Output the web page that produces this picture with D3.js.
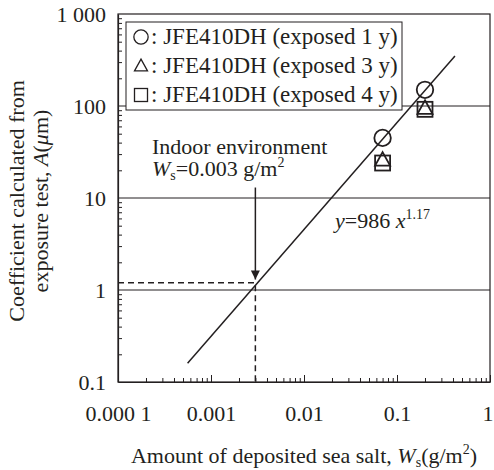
<!DOCTYPE html>
<html>
<head>
<meta charset="utf-8">
<script src="https://cdn.jsdelivr.net/npm/d3@7"></script>
<style>
  body { margin: 0; background: #fff; }
</style>
</head>
<body>
<svg id="chart"></svg>
<script>
// data
const saltX = [0.07, 0.2];
const coefExposed1 = [45, 150];
const coefExposed3 = [26, 95];
const coefExposed4 = [24, 92];
const seriesNames = ["JFE410DH (exposed 1 y)", "JFE410DH (exposed 3 y)", "JFE410DH (exposed 4 y)"];
const seriesShapes = ["circle", "triangle", "square"];

// fit line y = 986 x^1.17, endpoints
const fitX = [0.00056, 0.42];
const fitY = [0.16, 350];

// indoor environment marker
const indoorX = 0.003;
const indoorY = 1.2;
const arrowFromY = 13;
const arrowToY = 1.3;

const xTicks = [0.0001, 0.001, 0.01, 0.1, 1];
const xTickLabels = ["0.000 1", "0.001", "0.01", "0.1", "1"];
const yTicks = [0.1, 1, 10, 100, 1000];
const yTickLabels = ["0.1", "1", "10", "100", "1 000"];
const gridValues = [1, 10, 100];

const width = 494, height = 470;
const margin = { top: 14, right: 4, bottom: 88, left: 118 };
const ink = "#231f20";
const serif = "Liberation Serif";
const fs = 22, fsSmall = 14;

const svg = d3.select("#chart")
  .attr("width", width)
  .attr("height", height);

const x = d3.scaleLog()
  .domain([1e-4, 1])
  .range([margin.left, width - margin.right]);

const y = d3.scaleLog()
  .domain([0.1, 1000])
  .range([height - margin.bottom, margin.top]);

const minorOf = ticks => {
  const out = [];
  ticks.slice(0, -1).forEach(t => {
    for (let k = 2; k <= 9; k++) out.push(t * k);
  });
  return out;
};

// grid lines
svg.append("g")
  .selectAll("line")
  .data(gridValues)
  .join("line")
    .attr("x1", x.range()[0])
    .attr("x2", x.range()[1])
    .attr("y1", d => y(d))
    .attr("y2", d => y(d))
    .attr("stroke", ink)
    .attr("stroke-width", 1);

// frame
svg.append("rect")
  .attr("x", x.range()[0])
  .attr("y", y.range()[1])
  .attr("width", x.range()[1] - x.range()[0])
  .attr("height", y.range()[0] - y.range()[1])
  .attr("fill", "none")
  .attr("stroke", ink)
  .attr("stroke-width", 1.2);

// x axis
const xAxis = svg.append("g")
  .attr("transform", `translate(0, ${y.range()[0]})`)
  .call(d3.axisBottom(x)
    .tickValues(xTicks)
    .tickSizeInner(-7)
    .tickSizeOuter(0)
    .tickPadding(23)
    .tickFormat((d, i) => xTickLabels[i]));

svg.append("g")
  .attr("transform", `translate(0, ${y.range()[0]})`)
  .call(d3.axisBottom(x)
    .tickValues(minorOf(xTicks))
    .tickSizeInner(-4)
    .tickSizeOuter(0)
    .tickFormat(""))
  .call(g => g.select(".domain").remove());

// y axis
const yAxis = svg.append("g")
  .attr("transform", `translate(${x.range()[0]}, 0)`)
  .call(d3.axisLeft(y)
    .tickValues(yTicks)
    .tickSizeInner(0)
    .tickSizeOuter(0)
    .tickPadding(12)
    .tickFormat((d, i) => yTickLabels[i]));

svg.append("g")
  .attr("transform", `translate(${x.range()[0]}, 0)`)
  .call(d3.axisLeft(y)
    .tickValues(minorOf(yTicks))
    .tickSizeInner(-4)
    .tickSizeOuter(0)
    .tickFormat(""))
  .call(g => g.select(".domain").remove());

[xAxis, yAxis].forEach(g => {
  g.attr("font-family", null);
  g.selectAll("text")
    .attr("font-size", fs)
    .attr("fill", ink);
});
// the last x label sits right on the frame edge; keep it inside the page
xAxis.selectAll(".tick text").filter((d, i) => i === xTicks.length - 1)
  .attr("text-anchor", "end")
  .attr("dx", 3);
svg.selectAll(".domain").attr("stroke", ink).attr("stroke-width", 1.2);
svg.selectAll(".tick line").attr("stroke", ink).attr("stroke-width", 1);

// dashed guide lines
svg.append("path")
  .attr("d", d3.line()([
    [x.range()[0], y(indoorY)],
    [x(indoorX), y(indoorY)],
    [x(indoorX), y.range()[0]]
  ]))
  .attr("fill", "none")
  .attr("stroke", ink)
  .attr("stroke-width", 1.5)
  .attr("stroke-dasharray", "6,4");

// fit line
svg.append("line")
  .attr("x1", x(fitX[0]))
  .attr("y1", y(fitY[0]))
  .attr("x2", x(fitX[1]))
  .attr("y2", y(fitY[1]))
  .attr("stroke", ink)
  .attr("stroke-width", 1.5);

// arrow
svg.append("defs").append("marker")
  .attr("id", "arrowhead")
  .attr("viewBox", "0 0 10 10")
  .attr("refX", 10)
  .attr("refY", 5)
  .attr("markerWidth", 14)
  .attr("markerHeight", 9)
  .attr("markerUnits", "userSpaceOnUse")
  .attr("orient", "auto")
  .append("path")
    .attr("d", "M0,0 L10,5 L0,10 Z")
    .attr("fill", ink);

svg.append("line")
  .attr("x1", x(indoorX))
  .attr("x2", x(indoorX))
  .attr("y1", y(arrowFromY))
  .attr("y2", y(arrowToY))
  .attr("stroke", ink)
  .attr("stroke-width", 1.5)
  .attr("marker-end", "url(#arrowhead)");

// markers
function drawShape(g, shape, cx, cy, s) {
  if (shape === "circle") {
    g.append("circle").attr("cx", cx).attr("cy", cy).attr("r", s * 0.55);
  } else if (shape === "square") {
    g.append("rect").attr("x", cx - s / 2).attr("y", cy - s / 2).attr("width", s).attr("height", s);
  } else {
    const h = s * 0.9;
    g.append("path").attr("d", `M${cx},${cy - h / 2 - 1} L${cx + s / 2},${cy + h / 2 - 1} L${cx - s / 2},${cy + h / 2 - 1} Z`);
  }
}

const allSeries = [coefExposed1, coefExposed3, coefExposed4];
const markG = svg.append("g")
  .attr("fill", "none")
  .attr("stroke", ink)
  .attr("stroke-width", 1.8);

[2, 1, 0].forEach(si => {
  saltX.forEach((sx, i) => {
    drawShape(markG, seriesShapes[si], x(sx), y(allSeries[si][i]), 15);
  });
});

// legend
const legend = svg.append("g").attr("transform", "translate(126, 22)");
legend.append("rect")
  .attr("width", 276)
  .attr("height", 88)
  .attr("fill", "#fff")
  .attr("stroke", ink)
  .attr("stroke-width", 1);

seriesNames.forEach((name, i) => {
  const cy = 15 + i * 29;
  const lg = legend.append("g")
    .attr("fill", "none")
    .attr("stroke", ink)
    .attr("stroke-width", 1.3);
  drawShape(lg, seriesShapes[i], 15, cy, 13);
  legend.append("text")
    .attr("x", 25)
    .attr("y", cy + 7)
    .attr("font-size", 23)
    .text(": " + name);
});

// annotations
const ann = svg.append("g").attr("font-size", fs);
ann.append("text")
  .attr("x", 152)
  .attr("y", 154)
  .text("Indoor environment");

const ws = ann.append("text").attr("x", 152).attr("y", 176);
ws.append("tspan").attr("font-style", "italic").text("W");
ws.append("tspan").attr("font-size", fsSmall).attr("dy", 4).text("s");
ws.append("tspan").attr("dy", -4).text("=0.003 g/m");
ws.append("tspan").attr("font-size", fsSmall).attr("dy", -9).text("2");

const eq = ann.append("text").attr("x", 335).attr("y", 228);
eq.append("tspan").attr("font-style", "italic").text("y");
eq.append("tspan").text("=986 ");
eq.append("tspan").attr("font-style", "italic").text("x");
eq.append("tspan").attr("font-size", fsSmall).attr("dy", -9).text("1.17");

// axis titles
const xt = svg.append("text")
  .attr("x", 304)
  .attr("y", 463)
  .attr("text-anchor", "middle")
  .attr("font-size", fs);
xt.append("tspan").text("Amount of deposited sea salt, ");
xt.append("tspan").attr("font-style", "italic").text("W");
xt.append("tspan").attr("font-size", fsSmall).attr("dy", 4).text("s");
xt.append("tspan").attr("dy", -4).text("(g/m");
xt.append("tspan").attr("font-size", fsSmall).attr("dy", -9).text("2");
xt.append("tspan").attr("dy", 9).text(")");

const yt = svg.append("g")
  .attr("transform", "translate(0, 201) rotate(-90)");
yt.append("text")
  .attr("x", 0)
  .attr("y", 24)
  .attr("text-anchor", "middle")
  .attr("font-size", fs)
  .text("Coefficient calculated from");
const yt2 = yt.append("text")
  .attr("x", 0)
  .attr("y", 48)
  .attr("text-anchor", "middle")
  .attr("font-size", fs);
yt2.append("tspan").text("exposure test, ");
yt2.append("tspan").attr("font-style", "italic").text("A");
yt2.append("tspan").text("(");
yt2.append("tspan").attr("font-style", "italic").text("μ");
yt2.append("tspan").text("m)");

svg.attr("font-family", serif);
svg.selectAll("text")
  .style("font-family", serif)
  .style("fill", ink);
</script>
</body>
</html>
